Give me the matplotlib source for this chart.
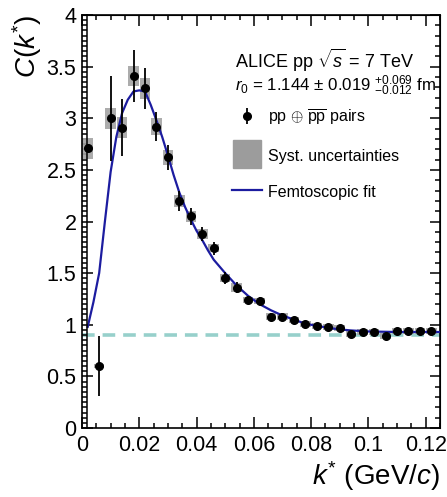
import matplotlib
matplotlib.use('Agg')
import matplotlib.pyplot as plt
import numpy as np
from matplotlib.lines import Line2D

plt.rcParams['font.family'] = ['Liberation Sans', 'DejaVu Sans']
plt.rcParams['mathtext.fontset'] = 'custom'
plt.rcParams['mathtext.rm'] = 'Liberation Sans'
plt.rcParams['mathtext.it'] = 'Liberation Sans:italic'
plt.rcParams['mathtext.sf'] = 'Liberation Sans'

# data: correlation function, bin centres in GeV/c
k_star = [0.002, 0.006, 0.010, 0.014, 0.018, 0.022, 0.026, 0.030, 0.034, 0.038,
          0.042, 0.046, 0.050, 0.054, 0.058, 0.062, 0.066, 0.070, 0.074, 0.078,
          0.082, 0.086, 0.090, 0.094, 0.098, 0.102, 0.106, 0.110, 0.114, 0.118, 0.122]
c_val = [2.71, 0.60, 3.00, 2.91, 3.41, 3.29, 2.92, 2.62, 2.20, 2.05,
         1.88, 1.74, 1.45, 1.36, 1.24, 1.23, 1.08, 1.08, 1.05, 1.01,
         0.99, 0.98, 0.97, 0.91, 0.93, 0.93, 0.89, 0.94, 0.94, 0.94, 0.94]
c_stat = [0.03, 0.29, 0.41, 0.28, 0.25, 0.20, 0.14, 0.12, 0.10, 0.08,
          0.07, 0.06, 0.06, 0.05, 0.04, 0.04, 0.03, 0.03, 0.03, 0.03,
          0.02, 0.02, 0.02, 0.02, 0.02, 0.02, 0.02, 0.02, 0.02, 0.02, 0.02]
c_syst = [0.10, 0.02, 0.10, 0.10, 0.10, 0.10, 0.08, 0.07, 0.06, 0.05,
          0.05, 0.04, 0.04, 0.04, 0.03, 0.03, 0.03, 0.03, 0.03, 0.03,
          0.03, 0.03, 0.03, 0.03, 0.03, 0.03, 0.03, 0.03, 0.03, 0.03, 0.03]

# femtoscopic fit curve
fit_k = [0.002, 0.004, 0.006, 0.008, 0.010, 0.012, 0.014, 0.016, 0.018, 0.020,
         0.022, 0.024, 0.026, 0.028, 0.030, 0.032, 0.034, 0.036, 0.038, 0.040,
         0.042, 0.044, 0.046, 0.050, 0.054, 0.058, 0.062, 0.066, 0.070, 0.074,
         0.078, 0.082, 0.086, 0.090, 0.094, 0.100, 0.110, 0.125]
fit_c = [0.98, 1.22, 1.50, 2.00, 2.48, 2.82, 3.05, 3.18, 3.26, 3.27,
         3.26, 3.13, 2.98, 2.82, 2.64, 2.45, 2.28, 2.14, 2.02, 1.91,
         1.82, 1.72, 1.63, 1.50, 1.38, 1.28, 1.20, 1.14, 1.09, 1.05,
         1.01, 0.99, 0.97, 0.955, 0.945, 0.935, 0.93, 0.93]

baseline = 0.9

x_ticks = [0, 0.02, 0.04, 0.06, 0.08, 0.1, 0.12]
x_labels = ['0', '0.02', '0.04', '0.06', '0.08', '0.1', '0.12']
y_ticks = [0, 0.5, 1, 1.5, 2, 2.5, 3, 3.5, 4]
y_labels = ['0', '0.5', '1', '1.5', '2', '2.5', '3', '3.5', '4']

fig = plt.figure(figsize=(4.47, 4.97), dpi=100)
ax = fig.add_axes([0.1834, 0.1388, 0.8009, 0.831])

fit_color = '#1c1ca0'
ax.axhline(baseline, color='#97d0cb', lw=2.6, ls=(0, (3.5, 2.2)), zorder=1)
ax.bar(k_star, 2 * np.array(c_syst), bottom=np.array(c_val) - np.array(c_syst),
       width=0.0037, color='#a3a3a3', alpha=0.9, zorder=2)
ax.plot(fit_k, fit_c, color=fit_color, lw=1.6, zorder=3)
ax.errorbar(k_star, c_val, yerr=c_stat, fmt='o', color='black', ms=5.5,
            elinewidth=1.3, capsize=0, zorder=4)

ax.set_xlim(0, 0.125)
ax.set_ylim(0, 4)
ax.set_xticks(x_ticks)
ax.set_xticklabels(x_labels)
ax.set_yticks(y_ticks)
ax.set_yticklabels(y_labels)
ax.set_xticks(np.arange(0, 0.1251, 0.005), minor=True)
ax.set_yticks(np.arange(0, 4.001, 0.05), minor=True)
ax.tick_params(which='both', direction='in', width=1.1, labelsize=15.5)
ax.tick_params(which='major', length=8)
ax.tick_params(which='minor', length=3.8)
ax.tick_params(axis='x', pad=5)
ax.tick_params(axis='y', pad=4)
for s in ax.spines.values():
    s.set_linewidth(1.2)
# ladder line of the left axis
ax.plot([5 / 358, 5 / 358], [0, 1], transform=ax.transAxes, color='black',
        lw=1.1, clip_on=False, zorder=5)

# mirrored top / right ticks
top = ax.secondary_xaxis('top')
top.set_xticks(x_ticks)
top.set_xticks(np.arange(0, 0.1251, 0.005), minor=True)
top.tick_params(which='both', direction='in', width=1.1, labeltop=False)
top.tick_params(which='major', length=8)
top.tick_params(which='minor', length=3.8)
right = ax.secondary_yaxis('right')
right.set_yticks(y_ticks)
right.set_yticks(np.arange(0, 4.001, 0.1), minor=True)
right.tick_params(which='both', direction='in', width=1.1, labelright=False)
right.tick_params(which='major', length=7)
right.tick_params(which='minor', length=3.8)

ax.set_xlabel(r'$k^{*}$ (GeV/$c$)', fontsize=20, loc='right', labelpad=2)
ax.set_ylabel(r'$C(k^{*})$', fontsize=20, loc='top', labelpad=2)

# legend block
ax.text(0.427, 0.891, r'ALICE pp $\sqrt{s}$ = 7 TeV', transform=ax.transAxes,
        fontsize=13, va='center', ha='left')
ax.text(0.427, 0.828, r'$r_{\mathit{0}}$ = 1.144 ± 0.019 ${}^{+0.069}_{-0.012}$ fm',
        transform=ax.transAxes, fontsize=12.2, va='center', ha='left')

eb = ax.errorbar([], [], yerr=[], fmt='o', color='black', ms=5.5, elinewidth=1.3)
handles = [
    eb,
    Line2D([], [], marker='s', ms=20, color='#9c9c9c', ls='none'),
    Line2D([], [], color=fit_color, lw=1.6),
]
ax.legend(handles, [r'pp $\oplus$ $\overline{\mathrm{pp}}$ pairs', 'Syst. uncertainties',
                    'Femtoscopic fit'],
          loc='upper left', bbox_to_anchor=(0.419, 0.776), frameon=False,
          fontsize=11.5, handlelength=1.9, handleheight=1.0, handletextpad=0.35,
          labelspacing=1.28, borderpad=0, borderaxespad=0)

fig.savefig('out.png', dpi=100)
